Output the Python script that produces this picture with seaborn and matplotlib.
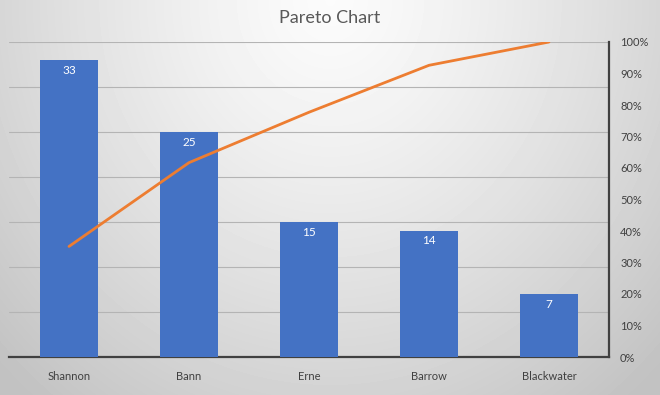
import numpy as np
import pandas as pd
import matplotlib
matplotlib.use("Agg")
import matplotlib.pyplot as plt
import seaborn as sns
from matplotlib.ticker import PercentFormatter

categories = ["Shannon", "Bann", "Erne", "Barrow", "Blackwater"]
counts = [33, 25, 15, 14, 7]
cum_pct = [35.1, 61.7, 77.7, 92.6, 100.0]
pct_ticks = [0, 10, 20, 30, 40, 50, 60, 70, 80, 90, 100]

sns.set_style("white")
plt.rcParams["font.family"] = ["Lato", "DejaVu Sans"]

W, H = 660, 395
fig = plt.figure(figsize=(W / 100, H / 100), dpi=100)

# radial gradient background
bg = fig.add_axes([0, 0, 1, 1], zorder=-10)
yy, xx = np.mgrid[0:H, 0:W]
r = np.sqrt(((xx - W / 2) / (W * 0.62)) ** 2 + ((yy - 0) / (H * 1.15)) ** 2)
val = np.clip(0.985 - 0.19 * r ** 1.3, 0.76, 1)
bg.imshow(val, cmap="gray", vmin=0, vmax=1, aspect="auto", interpolation="bilinear")
bg.axis("off")

ax = fig.add_axes([9 / W, (H - 357) / H, 600 / W, 315 / H])
ax.patch.set_alpha(0)
df = pd.DataFrame({"cat": categories, "n": counts})
sns.barplot(data=df, x="cat", y="n", color="#4472C4", saturation=1, width=0.49,
            linewidth=0, edgecolor="none", ax=ax, zorder=3)
ax.set_ylim(0, 35)
ax.set_xlim(-0.5, 4.5)
ax.set_yticks(range(0, 36, 5))
ax.set_yticklabels([])
ax.tick_params(axis="y", length=0)
ax.tick_params(axis="x", length=0, labelsize=8, colors="#404040", pad=10)
ax.grid(axis="y", color="#b4b4b4", lw=0.8, zorder=0)
ax.set_axisbelow(True)
ax.set_xlabel("")
ax.set_ylabel("")
for s in ["top", "left", "right"]:
    ax.spines[s].set_visible(False)
ax.spines["bottom"].set_color("#404040")
ax.spines["bottom"].set_linewidth(1.6)
for i, v in enumerate(counts):
    ax.text(i, v - 0.5, str(v), ha="center", va="top", color="white", fontsize=8.5)

ax2 = ax.twinx()
sns.pointplot(x=categories, y=cum_pct, ax=ax2, color="#ED7D31", markers="", linewidth=2.0)
ax2.set_ylim(0, 100)
ax2.set_xlim(-0.5, 4.5)
ax2.set_yticks(pct_ticks)
ax2.yaxis.set_major_formatter(PercentFormatter(decimals=0))
ax2.tick_params(axis="y", length=0, labelsize=8, colors="#404040", pad=8)
for s in ["top", "left", "bottom"]:
    ax2.spines[s].set_visible(False)
ax2.spines["right"].set_color("#404040")
ax2.spines["right"].set_linewidth(1.6)
ax2.set_ylabel("")
ax2.set_xlabel("")

fig.text(0.5, (H - 18) / H, "Pareto Chart", ha="center", va="center", fontsize=13, color="#595959")

fig.savefig("out.png", dpi=100)
